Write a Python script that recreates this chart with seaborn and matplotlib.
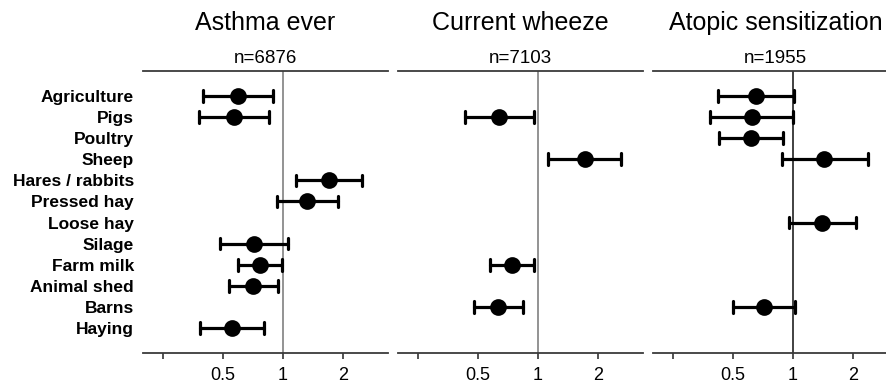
import numpy as np
import pandas as pd
import seaborn as sns
import matplotlib.pyplot as plt
from matplotlib.ticker import FixedLocator, FixedFormatter, NullLocator

# Expositions (ordre d'affichage, de haut en bas)
exposures = ['Agriculture', 'Pigs', 'Poultry', 'Sheep', 'Hares / rabbits', 'Pressed hay',
             'Loose hay', 'Silage', 'Farm milk', 'Animal shed', 'Barns', 'Haying']

titles = ['Asthma ever', 'Current wheeze', 'Atopic sensitization']
n_labels = ['n=6876', 'n=7103', 'n=1955']

# Odds ratios et IC 95%
asthma_exp = ['Agriculture', 'Pigs', 'Hares / rabbits', 'Pressed hay', 'Silage',
              'Farm milk', 'Animal shed', 'Haying']
asthma_or = [0.595, 0.572, 1.70, 1.32, 0.718, 0.769, 0.712, 0.555]
asthma_lo = [0.397, 0.379, 1.162, 0.933, 0.486, 0.595, 0.538, 0.383]
asthma_hi = [0.897, 0.857, 2.50, 1.89, 1.063, 0.989, 0.947, 0.808]

wheeze_exp = ['Pigs', 'Sheep', 'Farm milk', 'Barns']
wheeze_or = [0.640, 1.715, 0.743, 0.632]
wheeze_lo = [0.429, 1.126, 0.579, 0.476]
wheeze_hi = [0.958, 2.62, 0.958, 0.844]

atopy_exp = ['Agriculture', 'Pigs', 'Poultry', 'Sheep', 'Loose hay', 'Barns']
atopy_or = [0.655, 0.623, 0.618, 1.442, 1.404, 0.715]
atopy_lo = [0.420, 0.386, 0.425, 0.881, 0.955, 0.500]
atopy_hi = [1.01, 1.00, 0.898, 2.38, 2.08, 1.02]

xticks = [0.25, 0.5, 1, 2]
xticklabels = ['', '0.5', '1', '2']


def long_table(exp, orr, lo, hi):
    # 3 valeurs par exposition : médiane = OR, min/max = IC
    rows = []
    for e, o, l, h in zip(exp, orr, lo, hi):
        for v in (l, o, h):
            rows.append({'exposure': e, 'value': v})
    return pd.DataFrame(rows)


panels = [
    long_table(asthma_exp, asthma_or, asthma_lo, asthma_hi),
    long_table(wheeze_exp, wheeze_or, wheeze_lo, wheeze_hi),
    long_table(atopy_exp, atopy_or, atopy_lo, atopy_hi),
]
ref_colors = ['#8a8a8a', '#8a8a8a', '#333333']

sns.set_style('white')
plt.rcParams['font.family'] = ['Liberation Sans', 'DejaVu Sans']
plt.rcParams['text.color'] = 'black'
plt.rcParams['xtick.color'] = 'black'
plt.rcParams['ytick.color'] = 'black'

fig = plt.figure(figsize=(8.86, 3.83), dpi=100)
lefts = [143 / 886, 398 / 886, 653 / 886]
width = 245 / 886
bottom = 30 / 383
height = 282 / 383

for i, df in enumerate(panels):
    ax = fig.add_axes([lefts[i], bottom, width, height])
    ax.axvline(1, color=ref_colors[i], lw=1.3, zorder=0)
    sns.pointplot(data=df, x='value', y='exposure', order=exposures,
                  estimator='median', errorbar=('pi', 100), log_scale=True,
                  linestyle='none', color='black', capsize=0.55, markersize=10,
                  err_kws={'linewidth': 2.3}, ax=ax)
    ax.set_xlim(0.199, 3.37)
    ax.set_ylim(len(exposures) - 1 + 1.18, -1.18)
    ax.xaxis.set_major_locator(FixedLocator(xticks))
    ax.xaxis.set_major_formatter(FixedFormatter(xticklabels))
    ax.xaxis.set_minor_locator(NullLocator())
    ax.set_xlabel('')
    ax.set_ylabel('')
    ax.tick_params(axis='x', bottom=True, direction='out', length=4, width=1.2,
                   color='#333333', labelcolor='black', labelsize=13, pad=6)
    ax.tick_params(axis='y', left=False, length=0, pad=6.5, labelcolor='black')
    if i == 0:
        ax.set_yticks(range(len(exposures)))
        ax.set_yticklabels(exposures, fontsize=12.5, fontweight='bold')
    else:
        ax.set_yticklabels([])
    for side in ['left', 'right']:
        ax.spines[side].set_visible(False)
    for side in ['top', 'bottom']:
        ax.spines[side].set_visible(True)
        ax.spines[side].set_color('#3a3a3a')
        ax.spines[side].set_linewidth(1.3)

    cx = lefts[i] + width / 2
    fig.text(cx, 1 - 30 / 383, titles[i], ha='center', va='baseline', fontsize=18)
    fig.text(cx, 1 - 63 / 383, n_labels[i], ha='center', va='baseline', fontsize=13.5)

fig.savefig('out.png', dpi=100)
